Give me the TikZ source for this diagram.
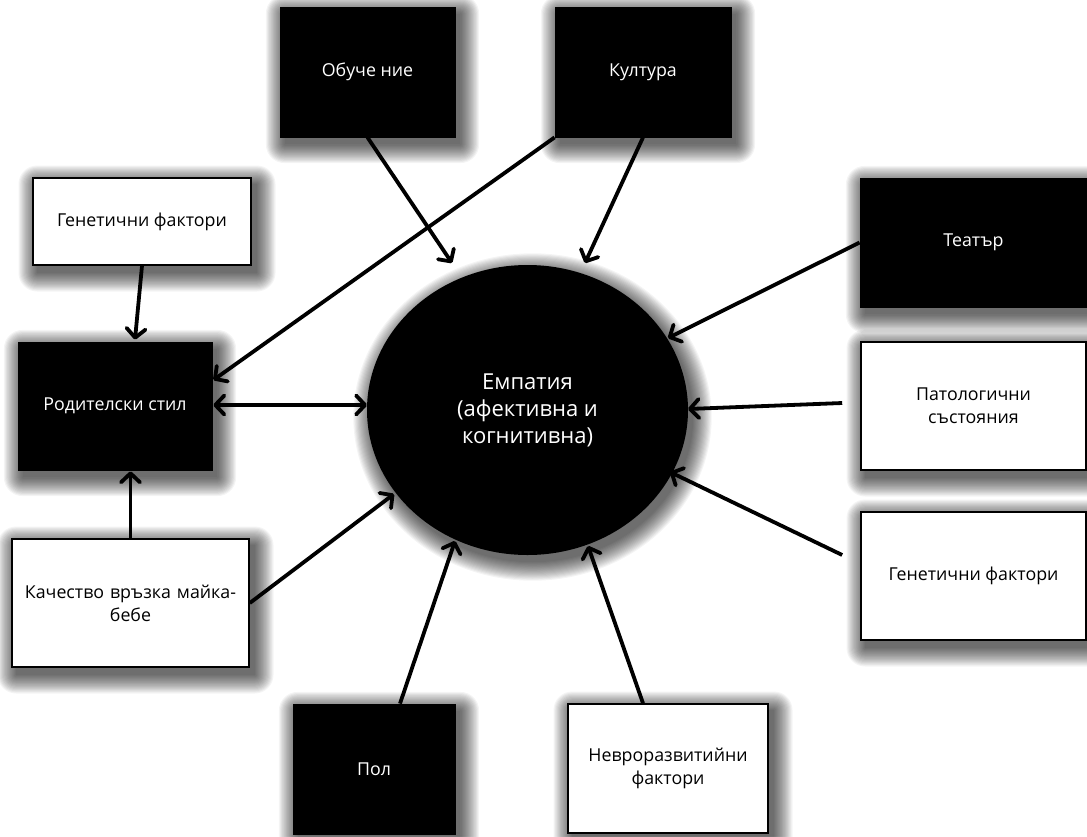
\documentclass[tikz,border=0pt]{standalone}
\usepackage{fontspec}
\setmainfont{Open Sans}
\usetikzlibrary{arrows.meta,shapes.geometric,calc,backgrounds}
\tikzset{
  darkbox/.style={rectangle,fill=black,draw=black,line width=0.8pt,text=white,inner sep=2pt,align=center,font=\fontsize{17.8}{23}\selectfont},
  lightbox/.style={rectangle,fill=white,draw=black,line width=1.6pt,text=black,inner sep=2pt,align=center,font=\fontsize{17.8}{23}\selectfont},
  hub/.style={ellipse,fill=black,text=white,inner sep=0pt,align=center,minimum width=321pt,minimum height=290pt,font=\fontsize{22}{27}\selectfont},
  conn/.style={line width=3.8pt,-{Straight Barb[length=9pt,width=19pt,round]}},
  conn2/.style={line width=3.8pt,{Straight Barb[length=9pt,width=19pt,round]}-{Straight Barb[length=9pt,width=19pt,round]}},
  shadowlayer/.style={black,opacity=0.042}
}
\newcommand\myboxshadow[1]{%
  \foreach \r in {0,1.1,...,19.8}{%
    \fill[shadowlayer,rounded corners=\r pt] ($(#1.south west)+(5-\r,7+\r)$) rectangle ($(#1.north east)+(5+\r,7-\r)$);}}
\begin{document}
\begin{tikzpicture}[x=1pt,y=-1pt]
\useasboundingbox (0,0) rectangle (1087,836);
% nodes
\node[darkbox,minimum width=175pt,minimum height=130pt] (obu) at (367.5,72) {Обуче ние};
\node[darkbox,minimum width=176pt,minimum height=130pt] (kul) at (643,72) {Култура};
\node[lightbox,minimum width=218pt,minimum height=87pt] (gen1) at (142,221.5) {Генетични фактори};
\node[darkbox,minimum width=194pt,minimum height=128pt] (rod) at (115,406) {Родителски стил};
\node[lightbox,minimum width=237pt,minimum height=128pt,text width=230pt] (kach) at (130.5,603) {Качество връзка майка-\\бебе};
\node[darkbox,minimum width=162pt,minimum height=130pt] (pol) at (374,769) {Пол};
\node[lightbox,minimum width=200pt,minimum height=129pt] (nev) at (668,768.5) {Невроразвитийни\\фактори};
\node[darkbox,minimum width=227pt,minimum height=129pt] (tea) at (973.5,242.5) {Театър};
\node[lightbox,minimum width=225pt,minimum height=128pt] (pat) at (973.5,406) {Патологични\\състояния};
\node[lightbox,minimum width=225pt,minimum height=128pt] (gen2) at (973.5,576) {Генетични фактори};
\node[hub] (emp) at (527.5,410) {Емпатия\\(афективна и\\когнитивна)};
% shadows
\begin{pgfonlayer}{background}
\fill[white] (0,0) rectangle (1087,836);
\foreach \n in {obu,kul,gen1,rod,kach,pol,nev,tea,pat,gen2}{\myboxshadow{\n}}
\foreach \r in {0,1.1,...,19.8}{%
  \fill[shadowlayer] ($(emp.center)+(5,7)$) ellipse [x radius=160.5+\r, y radius=145+\r];}
\end{pgfonlayer}
% connectors
\draw[conn] (obu.south) -- ([shift={(-75.5,-147)}]emp.center);
\draw[conn] (kul.south) -- ([shift={(57.5,-147)}]emp.center);
\draw[conn] (kul.south west) -- ([shift={(1,-26)}]rod.east);
\draw[conn] (gen1.south) -- ([shift={(20,-2)}]rod.north);
\draw[conn2] ([shift={(1,-1)}]rod.east) -- ([shift={(-160.5,-5)}]emp.center);
\draw[conn] (kach.north) -- ([shift={(15.5,1)}]rod.south);
\draw[conn] (kach.east) -- ([shift={(-133.5,84)}]emp.center);
\draw[conn] ([shift={(26,0)}]pol.north) -- ([shift={(-72.5,131)}]emp.center);
\draw[conn] ([shift={(-25,0)}]nev.north) -- ([shift={(60.5,136)}]emp.center);
\draw[conn] (tea.west) -- ([shift={(140.5,-72)}]emp.center);
\draw[conn] ([shift={(-18,-3)}]pat.west) -- ([shift={(160.5,-1)}]emp.center);
\draw[conn] ([shift={(-18,-21)}]gen2.west) -- ([shift={(142.5,62)}]emp.center);
\end{tikzpicture}
\end{document}
